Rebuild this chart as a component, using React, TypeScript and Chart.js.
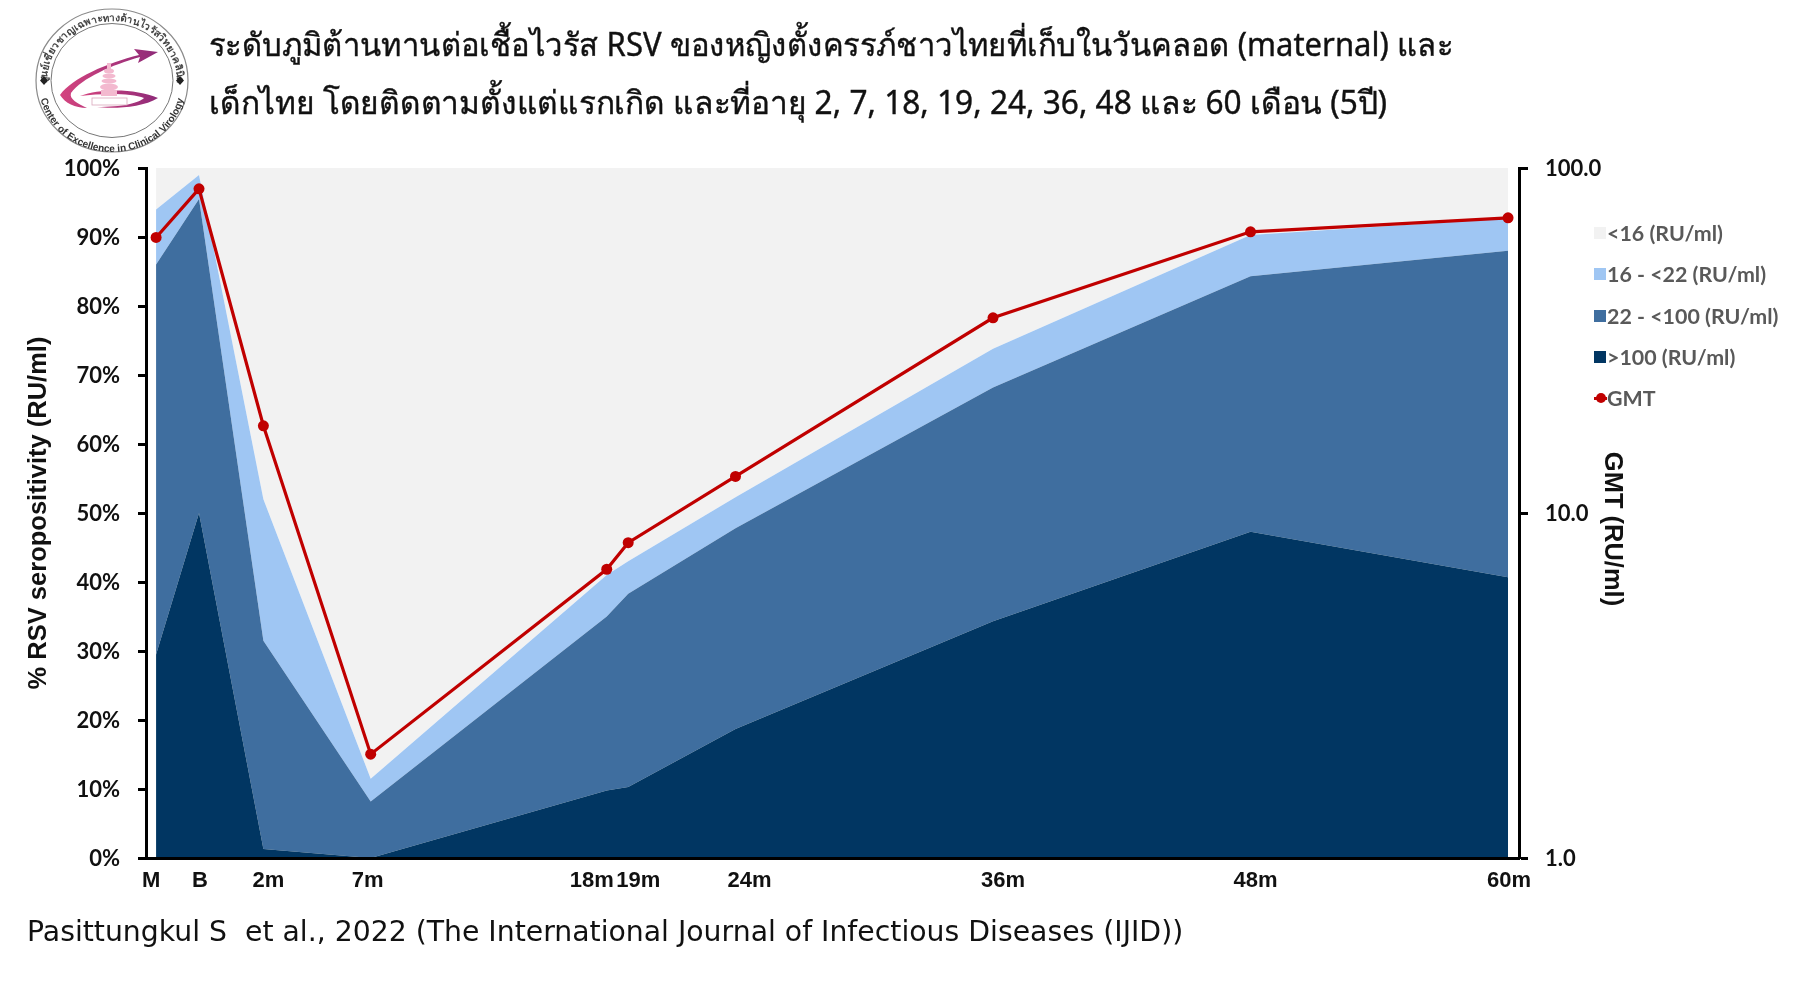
import React, { useEffect, useRef } from 'react';
import Chart from 'chart.js/auto';

const months = [-3, -1, 2, 7, 18, 19, 24, 36, 48, 60];
const tickLabels = ['M', 'B', '2m', '7m', '18m', '19m', '24m', '36m', '48m', '60m'];

const over100 = [29.5, 50, 1.3, 0, 9.8, 10.3, 18.7, 34.3, 47.3, 40.7];
const from22to100 = [56.5, 45.5, 30.2, 8.2, 25.2, 28, 29.1, 33.9, 37, 47.3];
const from16to22 = [8, 3.5, 20.5, 3.3, 6, 4.7, 4.5, 5.6, 6, 4.7];
const under16 = [6, 1, 48, 88.5, 59, 57, 47.7, 26.2, 9.7, 7.3];
const gmt = [62.9, 87, 17.9, 2, 6.87, 8.2, 12.76, 36.8, 65.3, 71.7];

const percentTicks = [0, 10, 20, 30, 40, 50, 60, 70, 80, 90, 100];
const gmtTicks = [1, 10, 100];

const titleLines = [
  'ระดับภูมิต้านทานต่อเชื้อไวรัส RSV ของหญิงตั้งครรภ์ชาวไทยที่เก็บในวันคลอด (maternal) และ',
  'เด็กไทย โดยติดตามตั้งแต่แรกเกิด และที่อายุ 2, 7, 18, 19, 24, 36, 48 และ 60 เดือน (5ปี)',
];

const DARK = '#013662';
const MID = '#3f6e9f';
const LIGHT = '#9fc6f3';
const PALE = '#f2f2f2';
const RED = '#c00000';

const toPoints = (ys: number[]) => ys.map((y, i) => ({ x: months[i], y }));

// hand placed in the original slide, the labels do not sit exactly under their points
const labelShift = [-5, 1, 5, -3, -15, 10, 14, 10, 5, 1];

const overlayText = {
  id: 'overlayText',
  afterDraw(chart: any) {
    const { ctx, scales } = chart;
    ctx.save();
    ctx.fillStyle = '#111';
    ctx.font = 'bold 22px "Liberation Sans"';
    ctx.textAlign = 'center';
    ctx.textBaseline = 'middle';
    months.forEach((m, i) => {
      ctx.fillText(tickLabels[i], scales.x.getPixelForValue(m) + labelShift[i], 881);
    });
    ctx.translate(1612, 529);
    ctx.rotate(Math.PI / 2);
    ctx.font = 'bold 25.5px "Liberation Sans"';
    ctx.fillText('GMT (RU/ml)', 0, 0);
    ctx.restore();
  },
};

function Logo() {
  return (
    <svg width={170} height={156} viewBox="0 0 170 156" style={{ position: 'absolute', left: 27, top: 3 }}>
      <defs>
        <path id="logoTop" d="M 20 78 A 65 60 0 0 1 150 78" />
        <path id="logoBottom" d="M 12 82 A 73 67 0 0 0 158 82" />
        <linearGradient id="swoosh" x1="0" x2="1">
          <stop offset="0" stopColor="#d4447f" />
          <stop offset="1" stopColor="#8e2a78" />
        </linearGradient>
      </defs>
      <ellipse cx={85} cy={77.5} rx={76} ry={71.5} fill="#fff" stroke="#8a8a8a" strokeWidth={1.2} />
      <ellipse cx={85} cy={77.5} rx={61} ry={57} fill="#fff" stroke="#777" strokeWidth={1} />
      <text textAnchor="middle" fontFamily="'Noto Sans', 'DejaVu Sans', sans-serif" fontSize={10} fontWeight="bold" fill="#444">
        <textPath href="#logoTop" startOffset="50%">ศูนย์เชี่ยวชาญเฉพาะทางด้านไวรัสวิทยาคลินิก</textPath>
      </text>
      <text textAnchor="middle" fontFamily="'Liberation Sans', sans-serif" fontSize={10} fontWeight="bold" fill="#333">
        <textPath href="#logoBottom" startOffset="50%">Center of Excellence in Clinical Virology</textPath>
      </text>
      <path d="M 17 73 l 4 4.5 l -4 4.5 l -4 -4.5 z M 153 73 l 4 4.5 l -4 4.5 l -4 -4.5 z" fill="#222" />
      <path
        d="M 131 49 L 107 46 L 112 52 C 80 60 45 75 33 92 C 38 100 48 105 60 105 C 50 100 42 96 44 90 C 55 75 85 62 113 54 L 111 60 Z"
        fill="url(#swoosh)"
      />
      <path d="M 53 93 C 75 85 110 86 131 95 C 115 105 85 106 70 104 C 95 104 112 100 117 95 C 105 90 75 90 53 93 Z" fill="url(#swoosh)" />
      <g fill="#f3b9cf">
        <rect x={80} y={60} width={4} height={6} />
        <ellipse cx={82} cy={68} rx={5} ry={2.5} />
        <ellipse cx={82} cy={73} rx={6.5} ry={2.5} />
        <ellipse cx={82} cy={78} rx={7.5} ry={2.5} />
        <ellipse cx={82} cy={84} rx={9} ry={3.5} />
        <rect x={74} y={87} width={16} height={6} />
      </g>
      <rect x={65} y={95} width={35} height={7} fill="#fff" stroke="#d9a7bc" strokeWidth={0.8} />
    </svg>
  );
}

export default function App() {
  const canvasRef = useRef<HTMLCanvasElement>(null);

  useEffect(() => {
    if (!canvasRef.current) return;
    const area = (label: string, data: number[], color: string, fill: string) => ({
      label,
      data: toPoints(data),
      yAxisID: 'y',
      backgroundColor: color,
      borderWidth: 0,
      pointRadius: 0,
      fill,
    });

    const chart = new Chart(canvasRef.current, {
      type: 'line',
      data: {
        datasets: [
          {
            label: 'GMT',
            data: toPoints(gmt),
            yAxisID: 'y2',
            borderColor: RED,
            backgroundColor: RED,
            borderWidth: 3.2,
            pointRadius: 5.5,
            pointBorderWidth: 0,
            fill: false,
          },
          area('>100 (RU/ml)', over100, DARK, 'origin'),
          area('22 - <100 (RU/ml)', from22to100, MID, '-1'),
          area('16 - <22 (RU/ml)', from16to22, LIGHT, '-1'),
          area('<16 (RU/ml)', under16, PALE, '-1'),
        ],
      },
      options: {
        responsive: false,
        animation: false,
        layout: { padding: { top: 168, bottom: 0, left: 0, right: 0 } },
        plugins: { legend: { display: false }, tooltip: { enabled: false } },
        scales: {
          x: {
            type: 'linear',
            min: -3.47,
            max: 60.51,
            grid: { display: false },
            border: { display: true, color: '#000', width: 3, z: 1 },
            ticks: { display: false },
            afterFit: (s: any) => {
              s.height = 130;
            },
          },
          y: {
            position: 'left',
            stacked: true,
            min: 0,
            max: 100,
            afterBuildTicks: (s: any) => {
              s.ticks = percentTicks.map((value) => ({ value }));
            },
            afterFit: (s: any) => {
              s.width = 146;
            },
            grid: { drawOnChartArea: false, tickLength: 8, tickColor: '#000', tickWidth: 3 },
            border: { display: true, color: '#000', width: 3 },
            ticks: {
              padding: 18,
              labelOffset: 1,
              color: '#111',
              font: { family: 'Lato', weight: 'bold', size: 22 },
              callback: (v: any) => `${v}%`,
            },
            title: {
              display: true,
              text: '% RSV seropositivity (RU/ml)',
              color: '#111',
              padding: { top: 24, bottom: 0 },
              font: { family: 'Liberation Sans', weight: 'bold', size: 25.5 },
            },
          },
          y2: {
            type: 'logarithmic',
            position: 'right',
            min: 1,
            max: 100,
            afterBuildTicks: (s: any) => {
              s.ticks = gmtTicks.map((value) => ({ value }));
            },
            afterFit: (s: any) => {
              s.width = 297;
            },
            grid: { drawOnChartArea: false, tickLength: 9, tickColor: '#000', tickWidth: 3 },
            border: { display: true, color: '#000', width: 3 },
            ticks: {
              padding: 17,
              labelOffset: 1,
              color: '#111',
              font: { family: 'Lato', weight: 'bold', size: 22 },
              callback: (v: any) => Number(v).toFixed(1),
            },
          },
        },
      },
      plugins: [overlayText],
    } as any);

    return () => chart.destroy();
  }, []);

  const legendRows = [
    { label: '<16 (RU/ml)', color: PALE },
    { label: '16 - <22 (RU/ml)', color: LIGHT },
    { label: '22 - <100 (RU/ml)', color: MID },
    { label: '>100 (RU/ml)', color: DARK },
    { label: 'GMT', color: RED },
  ];

  return (
    <div style={{ position: 'absolute', left: 0, top: 0, width: 1816, height: 988, background: '#fff', overflow: 'hidden' }}>
      <canvas ref={canvasRef} width={1816} height={988} style={{ position: 'absolute', left: 0, top: 0 }} />
      <Logo />
      {titleLines.map((line, i) => (
        <div
          key={i}
          style={{
            position: 'absolute',
            left: 209,
            top: 21 + i * 58,
            lineHeight: '46px',
            fontSize: 32,
            whiteSpace: 'pre',
            color: '#111',
            fontFamily: "'Noto Sans', 'DejaVu Sans', sans-serif",
            WebkitTextStroke: '0.4px #111',
            transform: `scaleX(${i === 0 ? 0.969 : 0.988})`,
            transformOrigin: 'left center',
          }}
        >
          {line}
        </div>
      ))}
      <div
        style={{
          position: 'absolute',
          left: 27,
          top: 913,
          lineHeight: '38px',
          fontSize: 28.3,
          whiteSpace: 'pre',
          color: '#111',
          fontFamily: "'DejaVu Sans', sans-serif",
        }}
      >
        {'Pasittungkul S  et al., 2022 (The International Journal of Infectious Diseases (IJID))'}
      </div>
      {legendRows.map((row, i) => (
        <div key={row.label} style={{ position: 'absolute', left: 1594, top: 233 + i * 41.3 - 15, height: 30, display: 'flex', alignItems: 'center' }}>
          {row.label === 'GMT' ? (
            <span style={{ position: 'relative', width: 13, height: 12 }}>
              <span style={{ position: 'absolute', left: 0, top: 5, width: 13, height: 2.5, background: RED }} />
              <span style={{ position: 'absolute', left: 2, top: 1, width: 10, height: 10, borderRadius: 5, background: RED }} />
            </span>
          ) : (
            <span style={{ width: 12, height: 12, background: row.color, marginRight: 1 }} />
          )}
          <span style={{ fontFamily: 'Lato', fontWeight: 700, fontSize: 21.4, color: '#595959', whiteSpace: 'pre' }}>{row.label}</span>
        </div>
      ))}
    </div>
  );
}
